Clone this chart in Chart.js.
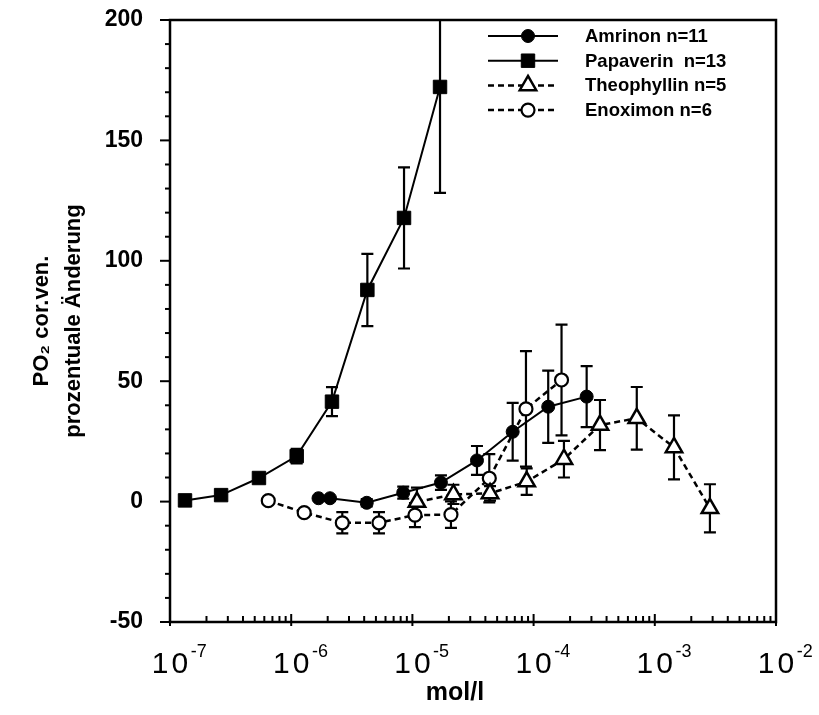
<!DOCTYPE html>
<html>
<head>
<meta charset="utf-8">
<script src="https://cdn.jsdelivr.net/npm/chart.js@4.4.1/dist/chart.umd.min.js"></script>
<style>
  html, body { margin: 0; padding: 0; background: #fff; }
</style>
</head>
<body>
<canvas id="chart" width="819" height="715"></canvas>
<script>
// values: concentration (mol/l), % change, error bar (+/-)
const amrinonX   = [1.68e-6, 2.09e-6, 4.2e-6, 8.4e-6, 1.72e-5, 3.41e-5, 6.72e-5, 1.32e-4, 2.74e-4];
const amrinonY   = [1.4, 1.4, -0.5, 3.7, 7.9, 17.1, 29.0, 39.4, 43.6];
const amrinonErr = [0, 0, 1.5, 2.5, 3, 6, 12, 15, 12.7];

const papaverinX   = [1.33e-7, 2.64e-7, 5.42e-7, 1.11e-6, 2.17e-6, 4.25e-6, 8.53e-6, 1.69e-5];
const papaverinY   = [0.5, 2.7, 9.8, 18.9, 41.5, 87.9, 117.8, 172.2];
const papaverinErr = [0, 0, 1.5, 3, 6, 15, 21, 44];

const theophyllinX   = [1.09e-5, 2.18e-5, 4.37e-5, 8.77e-5, 1.78e-4, 3.53e-4, 7.1e-4, 1.44e-3, 2.85e-3];
const theophyllinY   = [-0.2, 3.0, 3.4, 8.3, 17.6, 31.8, 34.6, 22.5, -2.8];
const theophyllinErr = [6, 4, 3, 5.5, 7.6, 10.4, 13, 13.3, 10];

const enoximonX   = [6.47e-7, 1.28e-6, 2.64e-6, 5.3e-6, 1.05e-5, 2.08e-5, 4.31e-5, 8.65e-5, 1.7e-4];
const enoximonY   = [0.4, -4.6, -8.8, -8.8, -5.6, -5.4, 9.7, 38.5, 50.5];
const enoximonErr = [0, 0, 4.4, 4.4, 5, 5.5, 10, 24, 23];

const seriesLabels = ['Amrinon n=11', 'Papaverin  n=13', 'Theophyllin n=5', 'Enoximon n=6'];
const xTickExponents = [-7, -6, -5, -4, -3, -2];
const yTicks = [-50, 0, 50, 100, 150, 200];
const xTitle = 'mol/l';

const FONT = '"Liberation Sans", Arial, sans-serif';

function points(xs, ys, errs) {
  return xs.map((x, i) => ({ x: x, y: ys[i], err: errs[i] }));
}

// error bars, frame, ticks, x labels and the legend box
const decorPlugin = {
  id: 'decor',
  beforeDatasetsDraw(chart) {
    const ctx = chart.ctx, xs = chart.scales.x, ys = chart.scales.y, a = chart.chartArea;
    ctx.save();
    ctx.beginPath();
    ctx.rect(a.left, a.top - 1, a.right - a.left, a.bottom - a.top + 1);
    ctx.clip();
    ctx.strokeStyle = '#000';
    ctx.lineWidth = 2.2;
    ctx.setLineDash([]);
    chart.data.datasets.forEach(ds => {
      ds.data.forEach(p => {
        if (!p.err) return;
        const x = xs.getPixelForValue(p.x);
        const y1 = ys.getPixelForValue(p.y + p.err);
        const y2 = ys.getPixelForValue(p.y - p.err);
        ctx.beginPath();
        ctx.moveTo(x, y1); ctx.lineTo(x, y2);
        ctx.moveTo(x - 6, y1); ctx.lineTo(x + 6, y1);
        ctx.moveTo(x - 6, y2); ctx.lineTo(x + 6, y2);
        ctx.stroke();
      });
    });
    ctx.restore();
  },
  afterDraw(chart) {
    const ctx = chart.ctx, xs = chart.scales.x, ys = chart.scales.y, a = chart.chartArea;
    ctx.save();
    ctx.strokeStyle = '#000';
    ctx.fillStyle = '#000';
    ctx.setLineDash([]);

    // frame
    ctx.lineWidth = 2.5;
    ctx.strokeRect(a.left, a.top, a.right - a.left, a.bottom - a.top);

    // y ticks (outside), major every 50, minor every 10
    ctx.lineWidth = 2;
    for (let v = -50; v <= 200; v += 10) {
      const y = ys.getPixelForValue(v);
      const len = (v % 50 === 0) ? 10 : 5;
      ctx.beginPath();
      ctx.moveTo(a.left - len, y); ctx.lineTo(a.left, y);
      ctx.stroke();
    }

    // x ticks (inside), decades and 2..9
    xTickExponents.forEach((e, i) => {
      const base = Math.pow(10, e);
      const x = xs.getPixelForValue(base);
      ctx.beginPath();
      ctx.moveTo(x, a.bottom - 8); ctx.lineTo(x, a.bottom + 4);
      ctx.stroke();
      if (i === xTickExponents.length - 1) return;
      for (let m = 2; m <= 9; m++) {
        const xm = xs.getPixelForValue(m * base);
        ctx.beginPath();
        ctx.moveTo(xm, a.bottom - 6); ctx.lineTo(xm, a.bottom);
        ctx.stroke();
      }
    });

    // x tick labels 10^e
    xTickExponents.forEach(e => {
      const x = xs.getPixelForValue(Math.pow(10, e));
      ctx.font = '30px ' + FONT;
      ctx.letterSpacing = '3px';
      ctx.textAlign = 'center';
      ctx.textBaseline = 'alphabetic';
      const w = ctx.measureText('10').width;
      ctx.fillText('10', x + 1.5, a.bottom + 51);
      ctx.letterSpacing = '0px';
      ctx.font = '18px ' + FONT;
      ctx.textAlign = 'left';
      ctx.fillText('-' + Math.abs(e), x + w / 2 + 1, a.bottom + 35);
    });

    // x axis title, sits a little left of the plot centre
    ctx.font = 'bold 25px ' + FONT;
    ctx.textAlign = 'center';
    ctx.textBaseline = 'alphabetic';
    ctx.fillText(xTitle, 455, 700);

    // legend
    const lx1 = 488, lx2 = 558, mx = 528, tx = 585;
    chart.data.datasets.forEach((ds, i) => {
      const y = 36 + i * 24.7;
      ctx.strokeStyle = '#000';
      ctx.lineWidth = ds.borderWidth;
      ctx.setLineDash(ds.borderDash || []);
      ctx.beginPath();
      ctx.moveTo(lx1, y); ctx.lineTo(lx2, y);
      ctx.stroke();
      ctx.setLineDash([]);
      ctx.fillStyle = ds.pointBackgroundColor;
      ctx.lineWidth = ds.pointBorderWidth;
      Chart.helpers.drawPoint(ctx, {
        pointStyle: ds.pointStyle, radius: ds.pointRadius, rotation: 0,
        borderWidth: ds.pointBorderWidth
      }, mx, y);
      ctx.fillStyle = '#000';
      ctx.font = 'bold 18.5px ' + FONT;
      ctx.textAlign = 'left';
      ctx.textBaseline = 'middle';
      ctx.fillText(ds.label, tx, y + 1);
    });
    ctx.restore();
  }
};

new Chart(document.getElementById('chart'), {
  type: 'line',
  data: {
    datasets: [{
      label: seriesLabels[0],
      data: points(amrinonX, amrinonY, amrinonErr),
      borderColor: '#000', borderWidth: 2,
      pointStyle: 'circle', pointRadius: 6.5,
      pointBackgroundColor: '#000', pointBorderColor: '#000', pointBorderWidth: 1
    }, {
      label: seriesLabels[1],
      data: points(papaverinX, papaverinY, papaverinErr),
      borderColor: '#000', borderWidth: 2,
      pointStyle: 'rect', pointRadius: 9.5,
      pointBackgroundColor: '#000', pointBorderColor: '#000', pointBorderWidth: 1
    }, {
      label: seriesLabels[2],
      data: points(theophyllinX, theophyllinY, theophyllinErr),
      borderColor: '#000', borderWidth: 2.5, borderDash: [6, 4],
      pointStyle: 'triangle', pointRadius: 9.5,
      pointBackgroundColor: '#fff', pointBorderColor: '#000', pointBorderWidth: 2.5
    }, {
      label: seriesLabels[3],
      data: points(enoximonX, enoximonY, enoximonErr),
      borderColor: '#000', borderWidth: 2.5, borderDash: [6, 4],
      pointStyle: 'circle', pointRadius: 6.5,
      pointBackgroundColor: '#fff', pointBorderColor: '#000', pointBorderWidth: 2.2
    }]
  },
  options: {
    responsive: false,
    animation: false,
    devicePixelRatio: 1,
    layout: { padding: { top: 20, right: 43, left: 0, bottom: 0 } },
    plugins: { legend: { display: false }, tooltip: { enabled: false } },
    elements: { line: { tension: 0 } },
    scales: {
      x: {
        type: 'logarithmic',
        min: 1e-7, max: 1e-2,
        grid: { display: false, drawTicks: false },
        border: { display: false },
        ticks: { display: false },
        title: { display: false, text: xTitle },
        afterFit(scale) { scale.height = 93; }
      },
      y: {
        min: -50, max: 200,
        afterBuildTicks(scale) { scale.ticks = yTicks.map(v => ({ value: v })); },
        grid: { display: false, drawTicks: true, tickLength: 25 },
        border: { display: false },
        ticks: {
          color: '#000', padding: 2,
          font: { family: FONT, size: 23, weight: 'bold' }
        },
        title: {
          display: true, text: ['PO\u2082 cor.ven.', 'prozentuale \u00c4nderung'], color: '#000',
          font: { family: FONT, size: 22, weight: 'bold', lineHeight: 1.45 },
          padding: { top: 26, bottom: 0 }
        },
        afterFit(scale) { scale.width = 170; }
      }
    }
  },
  plugins: [decorPlugin]
});
</script>
</body>
</html>
